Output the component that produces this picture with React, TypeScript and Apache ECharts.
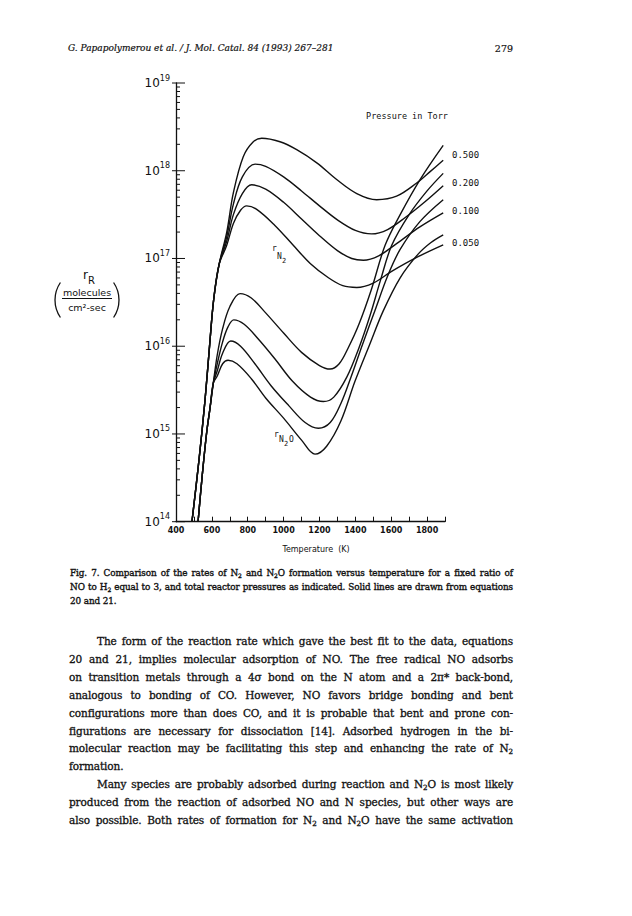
import React, { useEffect, useRef } from "react";
import * as echarts from "echarts";

// ---------- axis settings ----------
const X_MIN = 400;
const X_MAX = 1900;
const X_STEP = 100;
const xLabelValues = [400, 600, 800, 1000, 1200, 1400, 1600, 1800];
const yDecades = [14, 15, 16, 17, 18, 19];
const pressureLabels = ["0.500", "0.200", "0.100", "0.050"];

// ---------- data: [temperature K, log10 rate (molecules/cm2-sec)] ----------
const n2Start = [[489, 14.0], [528, 14.7], [562, 15.39], [587, 16.0], [610, 16.53], [640, 16.93]];
const n2P500 = [[683, 17.3], [720, 17.75], [775, 18.16], [831, 18.33], [878, 18.37], [980, 18.33], [1073, 18.24], [1185, 18.09], [1296, 17.9], [1408, 17.74], [1519, 17.67], [1630, 17.71], [1742, 17.86], [1817, 17.99], [1890, 18.12]];
const n2P200 = [[683, 17.25], [720, 17.62], [770, 17.93], [841, 18.075], [900, 18.05], [1000, 17.93], [1100, 17.77], [1200, 17.6], [1300, 17.44], [1400, 17.32], [1491, 17.28], [1580, 17.33], [1680, 17.47], [1790, 17.65], [1890, 17.83]];
const n2P100 = [[683, 17.2], [720, 17.5], [770, 17.74], [822, 17.84], [900, 17.79], [1000, 17.64], [1100, 17.45], [1200, 17.26], [1300, 17.09], [1380, 17.0], [1445, 16.98], [1530, 17.03], [1630, 17.17], [1760, 17.36], [1890, 17.52]];
const n2P050 = [[683, 17.15], [720, 17.4], [760, 17.55], [794, 17.6], [850, 17.56], [950, 17.38], [1050, 17.16], [1150, 16.94], [1250, 16.78], [1330, 16.69], [1408, 16.67], [1500, 16.72], [1600, 16.85], [1750, 17.02], [1890, 17.155]];

const n2oStart = [[523, 14.0], [545, 14.5], [570, 15.0], [590, 15.3], [608, 15.58]];
const n2oP500 = [[630, 15.9], [660, 16.2], [700, 16.45], [757, 16.6], [820, 16.55], [900, 16.38], [1000, 16.15], [1100, 15.93], [1200, 15.78], [1259, 15.74], [1310, 15.8], [1360, 15.98], [1420, 16.25], [1490, 16.65], [1566, 17.15], [1650, 17.5], [1761, 17.9], [1890, 18.29]];
const n2oP200 = [[630, 15.8], [660, 16.05], [690, 16.22], [722, 16.3], [780, 16.25], [860, 16.08], [950, 15.86], [1050, 15.6], [1150, 15.42], [1222, 15.37], [1280, 15.42], [1353, 15.65], [1420, 15.98], [1482, 16.35], [1540, 16.75], [1603, 17.15], [1700, 17.5], [1800, 17.77], [1890, 17.97]];
const n2oP100 = [[630, 15.72], [660, 15.92], [705, 16.06], [760, 16.0], [840, 15.8], [930, 15.55], [1030, 15.32], [1120, 15.13], [1194, 15.065], [1260, 15.13], [1320, 15.35], [1376, 15.65], [1440, 16.02], [1510, 16.41], [1580, 16.8], [1649, 17.1], [1760, 17.42], [1890, 17.67]];
const n2oP050 = [[630, 15.66], [660, 15.8], [690, 15.84], [740, 15.8], [820, 15.63], [900, 15.41], [1000, 15.18], [1100, 14.93], [1175, 14.77], [1240, 14.86], [1320, 15.15], [1398, 15.6], [1480, 16.02], [1555, 16.4], [1650, 16.78], [1750, 17.05], [1820, 17.18], [1890, 17.27]];

// ---------- page text ----------
const headerText = "G. Papapolymerou et al. / J. Mol. Catal. 84 (1993) 267\u2013281";
const pageNumber = "279";

const SERIF = "'DejaVu Serif', 'Liberation Serif', serif";

function toRate(pts: number[][]) {
  return pts.map(([t, l]) => [t, Math.pow(10, l)]);
}

function Sub({ children }: { children: any }) {
  return <span style={{ fontSize: "0.68em", verticalAlign: "-0.3em", lineHeight: 0 }}>{children}</span>;
}

function Line({ top, left, width, justify, children, size, indent, stroke }: any) {
  return (
    <div
      style={{
        position: "absolute",
        top: top - 9,
        left: left + (indent || 0),
        width: width - (indent || 0),
        height: 18,
        lineHeight: "18px",
        fontFamily: SERIF,
        fontSize: size,
        color: "#111",
        whiteSpace: "nowrap",
        letterSpacing: "-0.1px",
        textAlign: justify ? "justify" : "left",
        textAlignLast: justify ? "justify" : "left",
        WebkitTextStroke: `${stroke || 0.3}px #111`,
      } as any}
    >
      {children}
    </div>
  );
}

export default function App() {
  const ref = useRef<HTMLDivElement>(null);

  useEffect(() => {
    if (!ref.current) return;
    const chart = echarts.init(ref.current, undefined, { renderer: "svg" });

    const lineStyle = { color: "#111", width: 1.4 };
    const mk = (name: string, pts: number[][]) => ({
      name,
      type: "line",
      data: toRate(pts),
      smooth: 0.35,
      showSymbol: false,
      symbol: "none",
      lineStyle,
      silent: true,
      z: 3,
    });

    const tickData: number[][] = [];
    yDecades.forEach((d) => {
      tickData.push([X_MIN, Math.pow(10, d), 1]);
      if (d < yDecades[yDecades.length - 1]) {
        for (let k = 2; k <= 9; k++) tickData.push([X_MIN, k * Math.pow(10, d), 0]);
      }
    });

    const mono = "'DejaVu Sans Mono', 'Liberation Mono', monospace";
    const sans = "'DejaVu Sans', sans-serif";
    const txt = (x: number, y: number, text: string, font: string, align = "left") => ({
      type: "text",
      x,
      y,
      style: { text, font, fill: "#111", textAlign: align, textVerticalAlign: "middle" },
    });

    chart.setOption({
      animation: false,
      backgroundColor: "transparent",
      grid: { left: 176, top: 83, width: 269, height: 438.7, containLabel: false, show: false },
      xAxis: {
        type: "value",
        min: X_MIN,
        max: X_MAX,
        interval: X_STEP,
        axisLine: { show: true, lineStyle: { color: "#111", width: 1.3 } },
        axisTick: { show: true, inside: true, length: 5, lineStyle: { color: "#111", width: 1 } },
        splitLine: { show: false },
        axisLabel: {
          margin: 5,
          color: "#111",
          fontFamily: sans,
          fontWeight: "bold",
          fontSize: 8,
          formatter: (v: number) => (xLabelValues.indexOf(v) >= 0 ? String(v) : ""),
        },
      },
      yAxis: {
        type: "log",
        logBase: 10,
        min: Math.pow(10, yDecades[0]),
        max: Math.pow(10, yDecades[yDecades.length - 1]),
        splitNumber: 5,
        axisLine: { show: true, lineStyle: { color: "#111", width: 1.3 } },
        axisTick: { show: false },
        splitLine: { show: false },
        axisLabel: {
          margin: 6,
          formatter: (v: number) => "{b|10}{s|" + Math.round(Math.log10(v)) + "}",
          rich: {
            b: { fontSize: 12, fontFamily: sans, color: "#111" },
            s: { fontSize: 8, fontFamily: sans, color: "#111", padding: [0, 0, 10, 0] },
          },
        },
      },
      series: [
        mk("N2 0.500", n2Start.concat(n2P500)),
        mk("N2 0.200", n2Start.concat(n2P200)),
        mk("N2 0.100", n2Start.concat(n2P100)),
        mk("N2 0.050", n2Start.concat(n2P050)),
        mk("N2O 0.500", n2oStart.concat(n2oP500)),
        mk("N2O 0.200", n2oStart.concat(n2oP200)),
        mk("N2O 0.100", n2oStart.concat(n2oP100)),
        mk("N2O 0.050", n2oStart.concat(n2oP050)),
        {
          name: "yticks",
          type: "custom",
          silent: true,
          clip: false,
          z: 4,
          encode: { x: 0, y: 1 },
          data: tickData,
          renderItem: (params: any, api: any) => {
            const p = api.coord([api.value(0), api.value(1)]);
            const major = api.value(2) === 1;
            return {
              type: "line",
              shape: { x1: p[0] - (major ? 4 : 0), y1: p[1], x2: p[0] + (major ? 9 : 4), y2: p[1] },
              style: { stroke: "#111", lineWidth: 1 },
            };
          },
        },
      ],
      graphic: [
        txt(407, 116, "Pressure in Torr", `8.5px ${mono}`, "center"),
        ...pressureLabels.map((t, i) => txt(452, [155, 183, 211, 243][i], t, `9px ${mono}`)),
        txt(272, 248, "r", `8px ${mono}`),
        txt(277, 256, "N", `8px ${mono}`),
        txt(282, 261, "2", `7px ${mono}`),
        txt(274, 434, "r", `8px ${mono}`),
        txt(279, 439, "N", `8px ${mono}`),
        txt(284, 444, "2", `7px ${mono}`),
        txt(289, 439, "O", `8px ${mono}`),
        txt(316, 549, "Temperature  (K)", `8px ${sans}`, "center"),
        // y-axis title
        txt(83, 275, "r", `12px ${sans}`),
        txt(88, 280, "R", `10px ${sans}`),
        {
          type: "arc",
          shape: { cx: 86, cy: 300, r: 31, startAngle: Math.PI - 0.6, endAngle: Math.PI + 0.6, clockwise: true },
          style: { stroke: "#111", lineWidth: 1.3, fill: "none" },
        },
        {
          type: "arc",
          shape: { cx: 88, cy: 300, r: 31, startAngle: -0.6, endAngle: 0.6, clockwise: true },
          style: { stroke: "#111", lineWidth: 1.3, fill: "none" },
        },
        txt(87, 292, "molecules", `9.5px ${sans}`, "center"),
        { type: "line", shape: { x1: 62, y1: 298.5, x2: 112, y2: 298.5 }, style: { stroke: "#111", lineWidth: 1 } },
        txt(87, 307, "cm\u00b2-sec", `9.5px ${sans}`, "center"),
      ],
    });

    return () => chart.dispose();
  }, []);

  const L = 69;
  const W = 444;
  const bodyY0 = 641;
  const bodyStep = 17.9;
  const bs = 10.5;
  const cs = 8.85;

  return (
    <div style={{ position: "absolute", left: 0, top: 0, width: 632, height: 916, background: "#fff", overflow: "hidden" }}>
      <div ref={ref} style={{ position: "absolute", left: 0, top: 0, width: 632, height: 916 }} />
      <div style={{ position: "absolute", left: 68, top: 43, fontFamily: SERIF, fontStyle: "italic", fontSize: 9.0, color: "#111", whiteSpace: "nowrap", WebkitTextStroke: "0.2px #111" } as any}>
        {headerText}
      </div>
      <div style={{ position: "absolute", left: 480, width: 33, top: 43, fontFamily: SERIF, fontSize: 9.5, color: "#111", textAlign: "right", WebkitTextStroke: "0.2px #111" } as any}>
        {pageNumber}
      </div>

      <Line top={573} left={70} width={443} justify size={cs} stroke={0.35}>
        Fig. 7. Comparison of the rates of N<Sub>2</Sub> and N<Sub>2</Sub>O formation versus temperature for a fixed ratio of
      </Line>
      <Line top={587} left={70} width={443} justify size={cs} stroke={0.35}>
        NO to H<Sub>2</Sub> equal to 3, and total reactor pressures as indicated. Solid lines are drawn from equations
      </Line>
      <Line top={601} left={70} width={443} size={cs} stroke={0.35}>
        20 and 21.
      </Line>

      <Line top={bodyY0} left={L} width={W} justify indent={28} size={bs}>
        The form of the reaction rate which gave the best fit to the data, equations
      </Line>
      <Line top={bodyY0 + bodyStep} left={L} width={W} justify size={bs}>
        20 and 21, implies molecular adsorption of NO. The free radical NO adsorbs
      </Line>
      <Line top={bodyY0 + bodyStep * 2} left={L} width={W} justify size={bs}>
        on transition metals through a 4{"\u03c3"} bond on the N atom and a 2{"\u03c0"}* back-bond,
      </Line>
      <Line top={bodyY0 + bodyStep * 3} left={L} width={W} justify size={bs}>
        analogous to bonding of CO. However, NO favors bridge bonding and bent
      </Line>
      <Line top={bodyY0 + bodyStep * 4} left={L} width={W} justify size={bs}>
        configurations more than does CO, and it is probable that bent and prone con-
      </Line>
      <Line top={bodyY0 + bodyStep * 5} left={L} width={W} justify size={bs}>
        figurations are necessary for dissociation [14]. Adsorbed hydrogen in the bi-
      </Line>
      <Line top={bodyY0 + bodyStep * 6} left={L} width={W} justify size={bs}>
        molecular reaction may be facilitating this step and enhancing the rate of N<Sub>2</Sub>
      </Line>
      <Line top={bodyY0 + bodyStep * 7} left={L} width={W} size={bs}>
        formation.
      </Line>
      <Line top={bodyY0 + bodyStep * 8} left={L} width={W} justify indent={28} size={bs}>
        Many species are probably adsorbed during reaction and N<Sub>2</Sub>O is most likely
      </Line>
      <Line top={bodyY0 + bodyStep * 9} left={L} width={W} justify size={bs}>
        produced from the reaction of adsorbed NO and N species, but other ways are
      </Line>
      <Line top={bodyY0 + bodyStep * 10} left={L} width={W} justify size={bs}>
        also possible. Both rates of formation for N<Sub>2</Sub> and N<Sub>2</Sub>O have the same activation
      </Line>
    </div>
  );
}
